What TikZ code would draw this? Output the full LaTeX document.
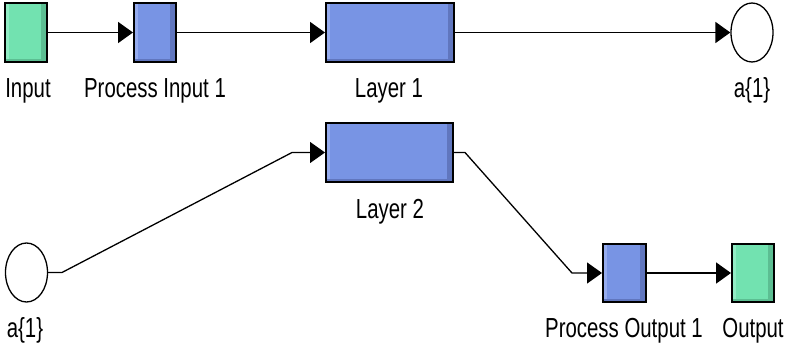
\documentclass[tikz,border=0pt]{standalone}
\usepackage{fontspec}
\setmainfont{Liberation Sans}
\usetikzlibrary{arrows.meta,shapes.geometric}
\definecolor{blockblue}{RGB}{120,148,228}
\definecolor{blockbluelt}{RGB}{150,172,238}
\definecolor{blockbluedk}{RGB}{96,118,190}
\definecolor{blockgreen}{RGB}{114,226,176}
\definecolor{blockgreenlt}{RGB}{145,236,196}
\definecolor{blockgreendk}{RGB}{92,190,146}
\tikzset{
  bevel/.style n args={3}{
    fill=#1, draw=black, line width=2pt, rectangle, inner sep=0pt,
    path picture={
      \fill[#2] (path picture bounding box.north west) rectangle
        ([xshift=4pt]path picture bounding box.south west);
      \fill[#3] ([xshift=-6pt]path picture bounding box.north east) rectangle
        (path picture bounding box.south east);
      \fill[#3] ([yshift=3pt]path picture bounding box.south west) rectangle
        (path picture bounding box.south east);
    }},
  bluebox/.style={bevel={blockblue}{blockbluelt}{blockbluedk}},
  greenbox/.style={bevel={blockgreen}{blockgreenlt}{blockgreendk}},
  signal/.style={ellipse, draw=black, line width=1.3pt, fill=white,
    minimum width=42pt, minimum height=59pt, inner sep=0pt},
  lbl/.style={anchor=base, inner sep=0pt, font=\fontsize{20.4pt}{22pt}\selectfont},
  wire/.style={line width=1.8pt, -{Triangle[length=15pt,width=21pt]}},
  slant/.style={line width=1.3pt, -{Triangle[length=15pt,width=21pt]}},
}
\begin{document}
\begin{tikzpicture}[x=1pt,y=-1pt]
\useasboundingbox (0,0) rectangle (788,351);

% upper network: input chain into Layer 1
\node[greenbox, minimum width=42pt, minimum height=59pt] (in) at (26,32.5) {};
\node[bluebox, minimum width=42pt, minimum height=59pt] (pin) at (155,32.5) {};
\node[bluebox, minimum width=128pt, minimum height=59pt] (l1) at (390,32.5) {};
\node[signal] (a1t) at (752,32.5) {};

\node[lbl] (in-lbl) at (28,97) {\scalebox{1}[1.35]{Input}};
\node[lbl] (pin-lbl) at (155,97) {\scalebox{1}[1.35]{Process Input 1}};
\node[lbl] (l1-lbl) at (389,97) {\scalebox{1}[1.35]{Layer 1}};
\node[lbl] (a1t-lbl) at (752,97) {\scalebox{1}[1.35]{a\{1\}}};

\draw[wire] (in) -- (pin);
\draw[wire] (pin) -- (l1);
\draw[wire] (l1) -- (a1t);

% lower network: Layer 2 to output
\node[bluebox, minimum width=127pt, minimum height=59pt] (l2) at (389.5,152.5) {};
\node[signal] (a1b) at (26.5,272.5) {};
\node[bluebox, minimum width=43pt, minimum height=58pt] (pout) at (624.5,273) {};
\node[greenbox, minimum width=42pt, minimum height=58pt] (out) at (753,273) {};

\node[lbl] (l2-lbl) at (390,218) {\scalebox{1}[1.35]{Layer 2}};
\node[lbl] (a1b-lbl) at (25,337) {\scalebox{1}[1.35]{a\{1\}}};
\node[lbl] (pout-lbl) at (624,337) {\scalebox{1}[1.35]{Process Output 1}};
\node[lbl] (out-lbl) at (753,337) {\scalebox{1}[1.35]{Output}};

\coordinate (b1) at (62,272.5);
\coordinate (b2) at (292,152.5);
\coordinate (b3) at (465,152.5);
\coordinate (b4) at (572,273);

\draw[slant] (a1b.east) -- (b1) -- (b2) -- (l2.west);
\draw[slant] (l2.east) -- (b3) -- (b4) -- (pout.west);
\draw[wire] (pout) -- (out);
\end{tikzpicture}
\end{document}
